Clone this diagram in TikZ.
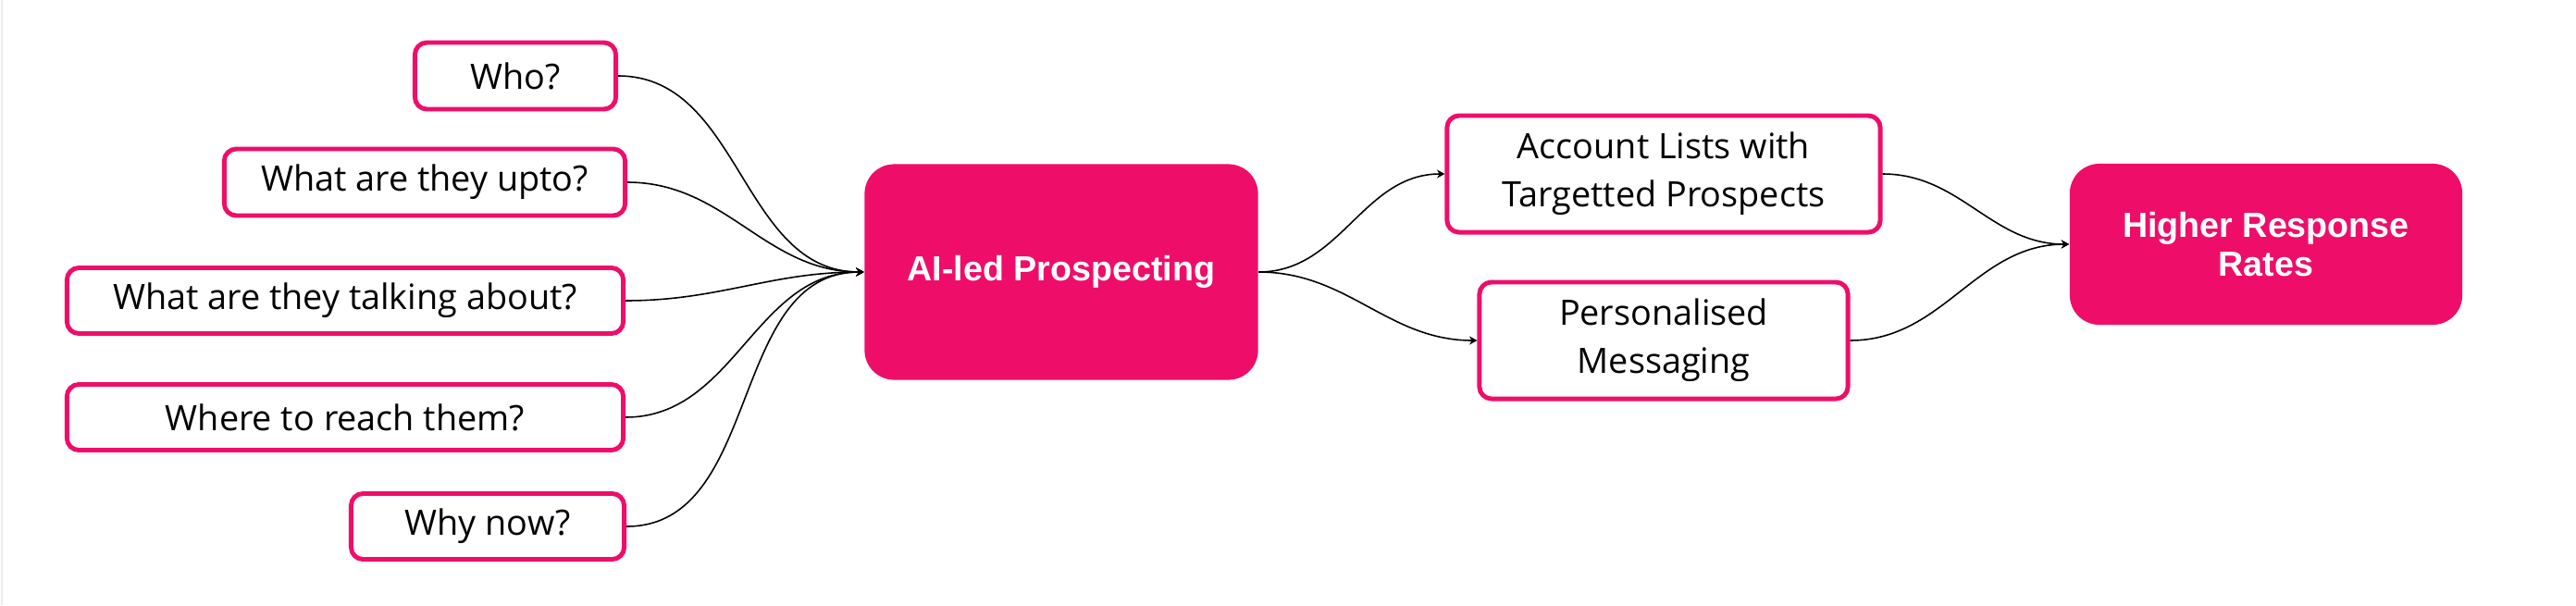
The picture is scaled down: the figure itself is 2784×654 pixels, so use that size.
\documentclass[tikz,border=0pt]{standalone}
\usepackage{fontspec}
\setmainfont{Open Sans}
\newfontfamily\hubfont{Liberation Sans}
\usepackage{tikz}
\usetikzlibrary{arrows.meta}

\definecolor{pinkai}{RGB}{238,14,106}
\tikzset{
    askbox/.style={draw=pinkai, line width=1.4pt, rounded corners=1.3mm, fill=white,
        align=center, inner sep=0pt, font=\fontsize{10.75}{14.8}\selectfont},
    hubbox/.style={fill=pinkai, rounded corners=3.2mm, inner sep=0pt, align=center,
        text=white, font=\hubfont\bfseries\fontsize{10.7}{12.2}\selectfont},
    link/.style={line width=0.45pt, -{Stealth[length=2.4pt,width=2.6pt]}}
}

\begin{document}
\begin{tikzpicture}[x=0.01cm, y=-0.01cm]
        \useasboundingbox (0,0) rectangle (2784,654);
        \draw[black!8, line width=0.4pt] (2,0) -- (2,654);
        % questions
        \node[askbox, minimum width=2.17cm, minimum height=0.72cm] (who) at (557,82) {Who?};
        \node[askbox, minimum width=4.33cm, minimum height=0.72cm] (upto) at (459,197) {What are they upto?};
        \node[askbox, minimum width=6.01cm, minimum height=0.71cm] (talk) at (373,325) {What are they talking about?};
        \node[askbox, minimum width=6.01cm, minimum height=0.71cm] (reach) at (373,451) {Where to reach them?};
        \node[askbox, minimum width=2.95cm, minimum height=0.71cm] (now) at (527,569) {Why now?};
        % hub and results
        \node[hubbox, minimum width=4.25cm, minimum height=2.33cm] (ai) at (1147,294) {AI-led Prospecting};
        \node[askbox, minimum width=4.68cm, minimum height=1.26cm] (lists) at (1798,188) {Account Lists with\\Targetted Prospects};
        \node[askbox, minimum width=3.98cm, minimum height=1.26cm] (msg) at (1798,368) {Personalised\\Messaging};
        \node[hubbox, minimum width=4.24cm, minimum height=1.74cm] (rates) at (2449,264) {Higher Response\\Rates};

        \foreach \q in {who,upto,talk,reach,now}
            \draw[link] (\q.east) to[out=0,in=180] (ai.west);
        \draw[link] (ai.east) to[out=0,in=180] (lists.west);
        \draw[link] (ai.east) to[out=0,in=180] (msg.west);
        \draw[link] (lists.east) to[out=0,in=180] (rates.west);
        \draw[link] (msg.east) to[out=0,in=180] (rates.west);
    \end{tikzpicture}
\end{document}
